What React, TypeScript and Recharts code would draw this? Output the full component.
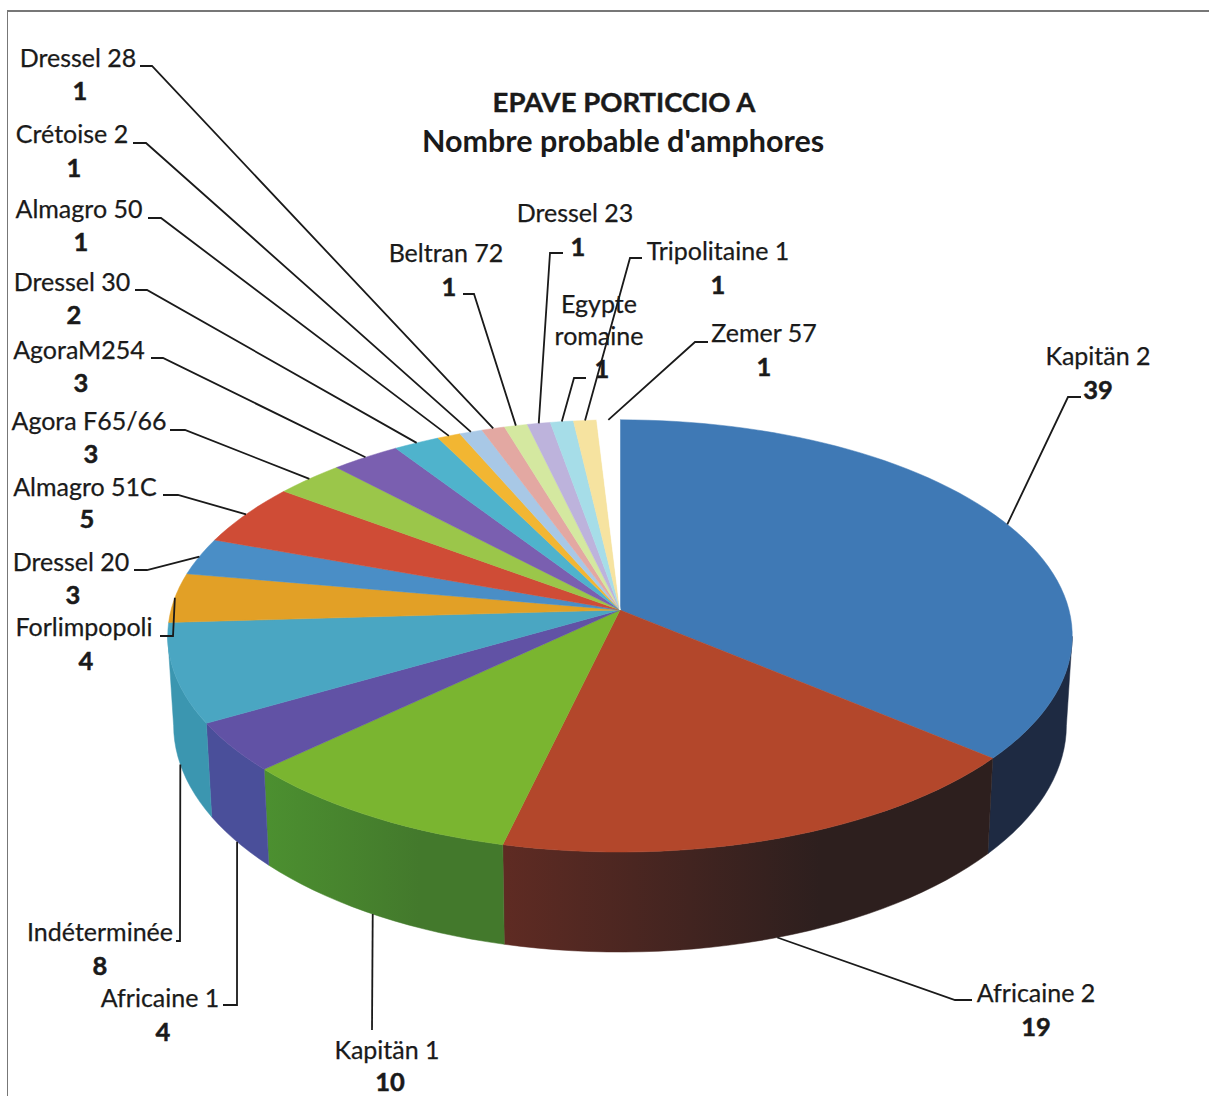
import React from "react";
import { PieChart, Pie } from "recharts";

// ---- data ----
const categories = [
  "Kapitän 2", "Africaine 2", "Kapitän 1", "Africaine 1", "Indéterminée", "Forlimpopoli",
  "Dressel 20", "Almagro 51C", "Agora F65/66", "AgoraM254", "Dressel 30", "Almagro 50",
  "Crétoise 2", "Dressel 28", "Beltran 72", "Dressel 23", "Egypte romaine", "Tripolitaine 1", "Zemer 57",
];
const amounts = [39, 19, 10, 4, 8, 4, 3, 5, 3, 3, 2, 1, 1, 1, 1, 1, 1, 1, 1];
const titleLines = ["EPAVE PORTICCIO A", "Nombre probable d'amphores"];

// ---- styles ----
const topColors = [
  "#3f79b5", "#b3472b", "#7ab530", "#6152a5", "#4aa6c2", "#e2a026", "#4a8ec6", "#cf4c36", "#9bc64a",
  "#7a5fb0", "#4fb3cc", "#f2b632", "#a8c8e6", "#e3a8a2", "#d4e8a0", "#bdb3dc", "#a6dde8", "#f6e3a0", "#ffffff",
];
const wallLeft: Record<number, string> = { 0: "#1e2a42", 1: "#5f2b23", 2: "#4c9030", 3: "#4a4f9a", 4: "#3b96b0" };
const wallRight: Record<number, string> = { 0: "#1e2a42", 1: "#2d1f1e", 2: "#43792c", 3: "#4a4f9a", 4: "#3b96b0" };

// ---- label layout: name position, value position, leader points from the label inward ----
type L = { nx: number; ny: number; vx: number; vy: number; pts: number[][]; wall?: boolean };
const layout: L[] = [
  { nx: 1098, ny: 365, vx: 1098, vy: 399, pts: [[1081, 397], [1068, 397]] },
  { nx: 1036, ny: 1002, vx: 1036, vy: 1036, pts: [[972, 1000], [955, 1000]], wall: true },
  { nx: 387, ny: 1059, vx: 390, vy: 1091, pts: [[372, 1030]], wall: true },
  { nx: 160, ny: 1007, vx: 163, vy: 1041, pts: [[223, 1005], [237, 1005], [237, 1000]], wall: true },
  { nx: 100, ny: 941, vx: 100, vy: 975, pts: [[176, 941], [180, 941], [180, 930]], wall: true },
  { nx: 84, ny: 636, vx: 86, vy: 670, pts: [[160, 636], [173, 636]] },
  { nx: 71, ny: 571, vx: 73, vy: 604, pts: [[134, 570], [147, 570]] },
  { nx: 85, ny: 496, vx: 87, vy: 528, pts: [[163, 495], [178, 495]] },
  { nx: 89, ny: 430, vx: 91, vy: 463, pts: [[170, 430], [185, 430]] },
  { nx: 79, ny: 359, vx: 81, vy: 392, pts: [[151, 358], [163, 358]] },
  { nx: 72, ny: 291, vx: 74, vy: 324, pts: [[135, 290], [147, 290]] },
  { nx: 79, ny: 218, vx: 81, vy: 251, pts: [[148, 218], [161, 218]] },
  { nx: 72, ny: 143, vx: 74, vy: 177, pts: [[133, 143], [146, 143]] },
  { nx: 78, ny: 67, vx: 80, vy: 100, pts: [[140, 66], [152, 66]] },
  { nx: 446, ny: 262, vx: 449, vy: 296, pts: [[463, 294], [474, 294]] },
  { nx: 575, ny: 222, vx: 578, vy: 256, pts: [[563, 253], [550, 253]] },
  { nx: 599, ny: 313, vx: 602, vy: 378, pts: [[586, 378], [574, 378]] },
  { nx: 718, ny: 260, vx: 718, vy: 294, pts: [[642, 258], [630, 258]] },
  { nx: 764, ny: 342, vx: 764, vy: 376, pts: [[708, 342], [695, 342]] },
];

const tableData = categories.map((name, i) => ({ name, value: amounts[i], fill: topColors[i] }));

// ---- tilted-disc projection of the polar coordinates the Pie gives us ----
const TILT = 0.12;
const SQUASH = 213 / 449;
const DEPTH = 88;
const SHRINK = 0.987;
const RAD = Math.PI / 180;
const FRONT_LIMIT = 97; // degrees clockwise from the top where the rim turns away

function rim(cx: number, cy: number, r: number, cw: number, lower = false) {
  const v = Math.sin(cw * RAD);
  const u = -Math.cos(cw * RAD);
  const d = 1 - TILT * u;
  const x = cx + (r * v) / d;
  const y = cy + (r * SQUASH * u) / d;
  if (!lower) return [x, y];
  return [cx + (x - cx) * SHRINK, y + DEPTH / d];
}

function SectorShape(props: any) {
  const { cx, cy, outerRadius: r, startAngle, endAngle, fill } = props;
  const a0 = 90 - startAngle;
  const a1 = 90 - endAngle;
  const steps = Math.max(2, Math.ceil((a1 - a0) / 2));
  const top: number[][] = [[cx, cy]];
  for (let k = 0; k <= steps; k++) top.push(rim(cx, cy, r, a0 + ((a1 - a0) * k) / steps));
  const topPath = "M" + top.map((p) => p.join(",")).join("L") + "Z";

  const w0 = Math.max(a0, FRONT_LIMIT);
  const w1 = Math.min(a1, 360 - FRONT_LIMIT);
  let wall = null;
  if (w1 > w0) {
    const n = Math.max(2, Math.ceil((w1 - w0) / 2));
    const up: number[][] = [];
    const low: number[][] = [];
    for (let k = 0; k <= n; k++) {
      const a = w0 + ((w1 - w0) * k) / n;
      up.push(rim(cx, cy, r, a));
      low.unshift(rim(cx, cy, r, a, true));
    }
    const idx = topColors.indexOf(fill);
    const gid = `wall-${idx}`;
    wall = (
      <g>
        <defs>
          <linearGradient id={gid} x1="0" x2="1" y1="0" y2="0">
            <stop offset="0" stopColor={wallLeft[idx]} />
            <stop offset="0.65" stopColor={wallRight[idx]} />
            <stop offset="1" stopColor={wallRight[idx]} />
          </linearGradient>
        </defs>
        <path d={"M" + up.concat(low).map((p) => p.join(",")).join("L") + "Z"} fill={`url(#${gid})`} stroke={`url(#${gid})`} strokeWidth={0.5} />
      </g>
    );
  }
  return (
    <g>
      {wall}
      <path d={topPath} fill={fill} stroke={fill} strokeWidth={0.5} />
    </g>
  );
}

const FONT = "Lato, sans-serif";
const INK = "#1a1a1a";

function SliceLabel(props: any) {
  const { cx, cy, outerRadius, midAngle, index, name, value } = props;
  const l = layout[index];
  const label = categories[index] ?? name;
  const lines = label === "Egypte romaine" ? ["Egypte", "romaine"] : [label];
  const end = rim(cx, cy, outerRadius, 90 - midAngle, !!l.wall);
  const pts = l.pts.concat([end]);
  return (
    <g>
      <polyline points={pts.map((p) => p.join(",")).join(" ")} fill="none" stroke={INK} strokeWidth={1.8} />
      {lines.map((t, k) => (
        <text key={t} x={l.nx} y={l.ny + k * 32} textAnchor="middle" fontFamily={FONT} fontSize={25} fill={INK} stroke={INK} strokeWidth={0.25}>
          {t}
        </text>
      ))}
      <text x={l.vx} y={l.vy} textAnchor="middle" fontFamily={FONT} fontWeight={700} fontSize={25.5} fill={INK} stroke={INK} strokeWidth={0.5}>
        {amounts[index] ?? value}
      </text>
    </g>
  );
}

export default function App() {
  return (
    <div style={{ position: "absolute", left: 0, top: 0, width: 1209, height: 1096, background: "#fff", overflow: "hidden" }}>
      <div style={{ position: "absolute", left: 7, top: 10, width: 1202, height: 1086, borderTop: "2px solid #777", borderLeft: "1.5px solid #777", boxSizing: "border-box" }} />
      <PieChart width={1209} height={1096} margin={{ top: 0, right: 0, bottom: 0, left: 0 }} style={{ position: "absolute", left: 0, top: 0 }}>
        <Pie
          data={tableData}
          dataKey="value"
          nameKey="name"
          cx={620}
          cy={610}
          outerRadius={449}
          startAngle={90}
          endAngle={-270}
          stroke="none"
          isAnimationActive={false}
          shape={SectorShape}
          label={SliceLabel}
          labelLine={false}
        />
        <text x={624} y={112} textAnchor="middle" fontFamily={FONT} fontWeight={700} fontSize={27.5} fill={INK} stroke={INK} strokeWidth={0.4}>
          {titleLines[0]}
        </text>
        <text x={623} y={152} textAnchor="middle" fontFamily={FONT} fontWeight={700} fontSize={30.5} fill={INK}>
          {titleLines[1]}
        </text>
      </PieChart>
    </div>
  );
}
